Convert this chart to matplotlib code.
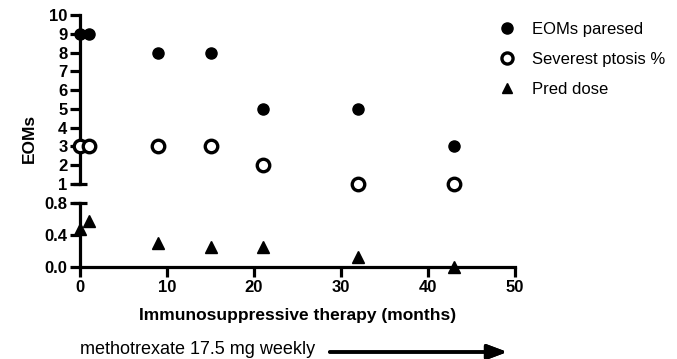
import matplotlib.pyplot as plt
from matplotlib.lines import Line2D

plt.rcParams['font.family'] = ['Liberation Sans', 'DejaVu Sans']

months = [0, 1, 9, 15, 21, 32, 43]
eoms_paresed = [9, 9, 8, 8, 5, 5, 3]
ptosis = [3, 3, 3, 3, 2, 1, 1]
pred_dose = [0.47, 0.57, 0.30, 0.25, 0.25, 0.12, 0.0]

W, H = 677, 359
fig = plt.figure(figsize=(W / 100, H / 100), dpi=100)

left = 80 / W
width = (515 - 80) / W
ax_top = fig.add_axes([left, 1 - 184 / H, width, (184 - 15) / H])
ax_bot = fig.add_axes([left, 1 - 267 / H, width, (267 - 203) / H])

lw = 2.3
for ax in (ax_top, ax_bot):
    ax.set_xlim(0, 50)
    for s in ('top', 'right'):
        ax.spines[s].set_visible(False)
    for s in ('left', 'bottom'):
        ax.spines[s].set_linewidth(lw)
    ax.tick_params(width=lw, length=7, labelsize=12, pad=2)
    ax.patch.set_alpha(0)

ax_top.spines['bottom'].set_visible(False)
ax_top.set_xticks([])
ax_top.set_ylim(1, 10)
ax_top.set_yticks(range(1, 11))
ax_top.set_yticklabels([str(v) for v in range(1, 11)], fontweight='bold')

ax_bot.set_ylim(0, 0.8)
ax_bot.set_yticks([0, 0.4, 0.8])
ax_bot.set_yticklabels(['0.0', '0.4', '0.8'], fontweight='bold')
ax_bot.set_xticks(range(0, 51, 10))
ax_bot.set_xticklabels([str(v) for v in range(0, 51, 10)], fontweight='bold')

# caps at the axis break
ax_top.plot([-0.8, 0.8], [1, 1], color='black', lw=lw, clip_on=False, solid_capstyle='butt')
ax_bot.plot([-0.8, 0.8], [0.8, 0.8], color='black', lw=lw, clip_on=False, solid_capstyle='butt')

ax_top.plot(months, eoms_paresed, 'o', color='black', markersize=8, clip_on=False, zorder=5)
ax_top.plot(months, ptosis, 'o', markerfacecolor='white', markeredgecolor='black',
            markeredgewidth=2.4, markersize=9, clip_on=False, zorder=5)
ax_bot.plot(months, pred_dose, '^', color='black', markersize=8, clip_on=False, zorder=5)

ax_top.set_ylabel('EOMs', fontsize=12.5, fontweight='bold')
ax_top.yaxis.set_label_coords(-0.10, 0.27)
ax_bot.set_xlabel('Immunosuppressive therapy (months)', fontsize=12.5, fontweight='bold', labelpad=10)

handles = [
    Line2D([], [], marker='o', ls='none', color='black', markersize=8),
    Line2D([], [], marker='o', ls='none', markerfacecolor='white', markeredgecolor='black',
           markeredgewidth=2.4, markersize=8),
    Line2D([], [], marker='^', ls='none', color='black', markersize=7),
]
fig.legend(handles, ['EOMs paresed', 'Severest ptosis %', 'Pred dose'],
           loc='upper left', bbox_to_anchor=(475 / W, 1 - 7 / H), frameon=False,
           fontsize=12, handletextpad=0.5, labelspacing=0.9)

fig.text(80 / W, 1 - 354 / H, 'methotrexate 17.5 mg weekly', fontsize=13, va='baseline')
fig.add_artist(plt.annotate('', xy=(510 / W, 1 - 352 / H), xytext=(327 / W, 1 - 352 / H),
                            xycoords='figure fraction', textcoords='figure fraction',
                            arrowprops=dict(arrowstyle='-|>,head_length=1.2,head_width=0.45',
                                            color='black', lw=2.5)))

fig.savefig('out.png', dpi=100)
